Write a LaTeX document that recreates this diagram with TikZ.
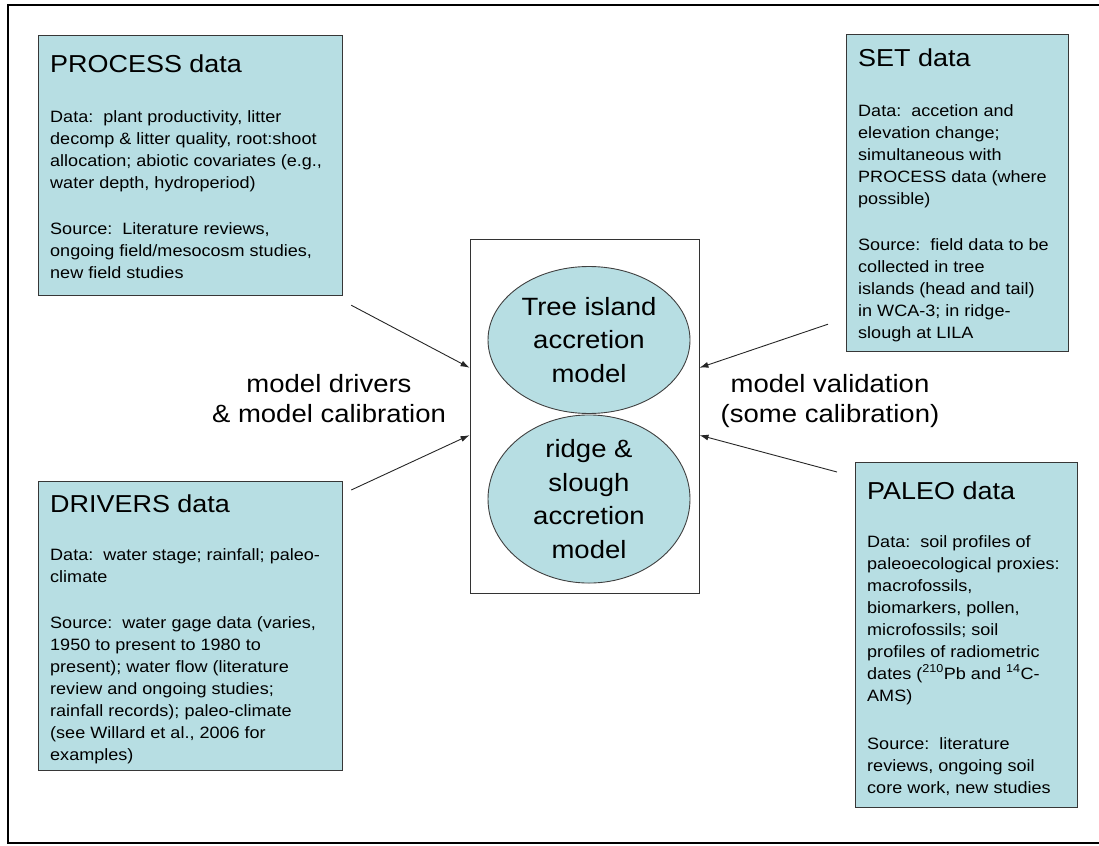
\documentclass[tikz,border=0pt]{standalone}
\usepackage{fontspec}
\setmainfont{Liberation Sans}[FakeStretch=1.1]
\usetikzlibrary{arrows.meta, calc, shapes.geometric}
\definecolor{boxcyan}{RGB}{183,222,227}
\definecolor{boxedge}{RGB}{55,55,55}

\begin{document}
\begin{tikzpicture}[x=1pt, y=-1pt,
  databox/.style={draw=boxedge, line width=1.2pt, fill=boxcyan, anchor=north west, inner sep=0pt},
  boxtitle/.style={anchor=base west, inner sep=0pt, font=\fontsize{24.5}{29}\selectfont},
  boxtext/.style={anchor=north west, inner sep=0pt, align=left, font=\fontsize{16.4}{22}\selectfont},
  modelshape/.style={ellipse, draw=black!75, line width=0.9pt, fill=boxcyan, minimum width=202pt, minimum height=147pt, inner sep=0pt, align=center, font=\fontsize{25}{33.5}\selectfont},
  sidelabel/.style={align=center, inner sep=0pt, font=\fontsize{25}{30}\selectfont},
  feed/.style={draw=black!85, line width=0.9pt, -{Latex[length=9pt,width=6pt]}}
]
\useasboundingbox (0,0) rectangle (1099,845);
% Frame
\draw[line width=1.3pt] (1099,5) -- (8,5) -- (8,843) -- (1099,843);

% Data boxes
\node[databox, minimum width=304pt, minimum height=260pt] (process) at (38,35) {};
\node[boxtitle] (processtitle) at ([shift={(12,38)}]process.north west) {PROCESS data};
\node[boxtext] (processtext) at ([shift={(12,75)}]process.north west) {Data:\ \ plant productivity, litter\\decomp \& litter quality, root:shoot\\allocation; abiotic covariates (e.g.,\\water depth, hydroperiod)\\[24pt]Source:\ \ Literature reviews,\\ongoing field/mesocosm studies,\\new field studies};

\node[databox, minimum width=304pt, minimum height=289pt] (drivers) at (38,481) {};
\node[boxtitle] (driverstitle) at ([shift={(12,31)}]drivers.north west) {DRIVERS data};
\node[boxtext] (driverstext) at ([shift={(12,67)}]drivers.north west) {Data:\ \ water stage; rainfall; paleo-\\climate\\[24pt]Source:\ \ water gage data (varies,\\1950 to present to 1980 to\\present); water flow (literature\\review and ongoing studies;\\rainfall records); paleo-climate\\(see Willard et al., 2006 for\\examples)};

\node[databox, minimum width=222pt, minimum height=317pt] (set) at (846,34) {};
\node[boxtitle] (settitle) at ([shift={(12,33)}]set.north west) {SET data};
\node[boxtext] (settext) at ([shift={(12,70)}]set.north west) {Data:\ \ accetion and\\elevation change;\\simultaneous with\\PROCESS data (where\\possible)\\[24pt]Source:\ \ field data to be\\collected in tree\\islands (head and tail)\\in WCA-3; in ridge-\\slough at LILA};

\node[databox, minimum width=222pt, minimum height=345pt] (paleo) at (855,462) {};
\node[boxtitle] (paleotitle) at ([shift={(12,37)}]paleo.north west) {PALEO data};
\node[boxtext] (paleotext) at ([shift={(12,73)}]paleo.north west) {Data:\ \ soil profiles of\\paleoecological proxies:\\macrofossils,\\biomarkers, pollen,\\microfossils; soil\\profiles of radiometric\\dates (\textsuperscript{210}Pb and \textsuperscript{14}C-\\AMS)\\[26pt]Source:\ \ literature\\reviews, ongoing soil\\core work, new studies};

% Models
\node[draw=black!80, line width=0.9pt, minimum width=229pt, minimum height=354pt, inner sep=0pt] (models) at (584.5,416) {};
\node[modelshape] (treeisland) at (589,340) {Tree island\\accretion\\model};
\node[modelshape, minimum height=146pt] (ridgeslough) at (589,499) {ridge \&\\slough\\accretion\\model};

% Labels
\node[sidelabel] (driverlabel) at (329,399) {model drivers\\\& model calibration};
\node[sidelabel] (validlabel) at (830,401) {model validation\\(some calibration)};

% Arrows
\draw[feed] ([shift={(8,9)}]process.south east) -- ($(models.north west)!0.364!(models.south west)$);
\draw[feed] ([shift={(8,9)}]drivers.north east) -- ($(models.north west)!0.554!(models.south west)$);
\draw[feed] ([shift={(-18,-28)}]set.south west) -- ($(models.north east)!0.364!(models.south east)$);
\draw[feed] ([shift={(-18,10)}]paleo.north west) -- ($(models.north east)!0.554!(models.south east)$);
\end{tikzpicture}
\end{document}
